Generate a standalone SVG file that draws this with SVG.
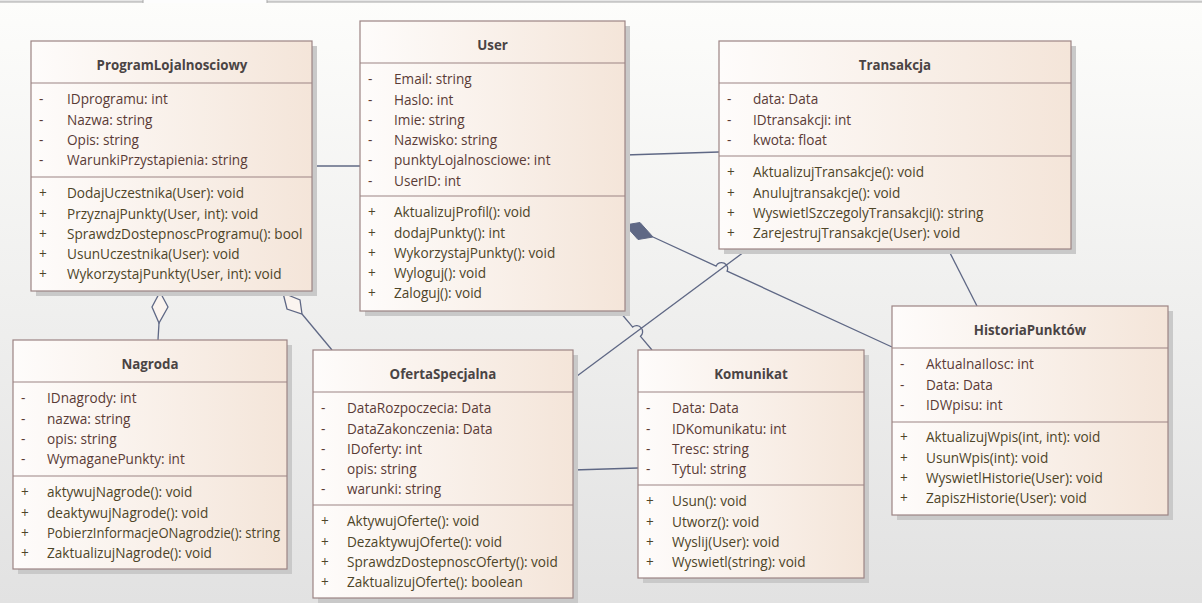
<svg xmlns="http://www.w3.org/2000/svg" width="1202" height="603" viewBox="0 0 1202 603">
<style>
.shadow{fill:#c9c9c9}
.box{fill:url(#boxg);stroke:#9c8484;stroke-width:1.2}
.sep{stroke:#9c8484;stroke-width:1.2}
.title{font-family:"Open Sans","Noto Sans",sans-serif;font-weight:bold;font-size:13.3px;fill:#4a4444;text-anchor:middle}
.attr{font-family:"Open Sans","Noto Sans",sans-serif;font-size:13.6px;fill:#5a3b36;transform:translateY(0.8px)}
.op{font-family:"Open Sans","Noto Sans",sans-serif;font-size:13.6px;fill:#4e4528;transform:translateY(0.8px)}
.conn{fill:none;stroke:#5f6885;stroke-width:1.3}
</style>
<defs>
<linearGradient id="bg" x1="0" y1="0" x2="0" y2="1">
<stop offset="0" stop-color="#fdfdfb"/>
<stop offset="1" stop-color="#e2e2e2"/>
</linearGradient>
<linearGradient id="boxg" x1="0" y1="0" x2="1" y2="0">
<stop offset="0" stop-color="#fefcfb"/>
<stop offset="1" stop-color="#f4e5d9"/>
</linearGradient>
</defs>
<rect x="0" y="0" width="1202" height="603" fill="url(#bg)"/>
<g id="tabbar">
<rect x="0" y="0" width="1202" height="2" fill="#e6e6e6"/>
<line x1="0" y1="2" x2="143" y2="2" stroke="#a8a8a8" stroke-width="1"/>
<line x1="267" y1="2" x2="1202" y2="2" stroke="#a8a8a8" stroke-width="1"/>
<rect x="143" y="0" width="124" height="3" fill="#fdfdfd"/>
<line x1="143" y1="0" x2="143" y2="3" stroke="#a8a8a8" stroke-width="1"/>
<line x1="267" y1="0" x2="267" y2="3" stroke="#a8a8a8" stroke-width="1"/>
</g>

<g id="connectors">
<path class="conn" d="M312,166 L360,166"/>
<path class="conn" d="M625,155 L719,152"/>
<path class="conn" d="M653,237 L716.1,266.1 A6,6 0 0 1 727.1,271.1 L892,347"/>
<path d="M625,225 L640,222.5 L653,237 L638,239.5 Z" fill="#5f6885" stroke="#5f6885" stroke-width="1"/>
<path class="conn" d="M748,249 L573,379"/>
<path class="conn" d="M948,249 L977,306"/>
<path class="conn" d="M620,312 L632.7,327.1 A6,6 0 0 1 640.5,336.3 L652,350"/>
<path class="conn" d="M573,470 L638,468"/>
<path class="conn" d="M159,323 L158,340"/>
<path d="M160,292 L168,307 L159,323 L152,307 Z" fill="#fbf4ef" stroke="#5f6885" stroke-width="1.3"/>
<path class="conn" d="M302,314 L332,350"/>
<path d="M283,293 L300,300 L302,314 L287,309 Z" fill="#fbf4ef" stroke="#5f6885" stroke-width="1.3"/>
</g>

<g id="ProgramLojalnosciowy">
<rect class="shadow" x="36" y="46" width="281" height="250"/>
<rect class="box" x="31" y="41" width="281" height="250"/>
<line class="sep" x1="31" y1="83" x2="312" y2="83"/>
<line class="sep" x1="31" y1="177" x2="312" y2="177"/>
<text class="title" x="172" y="69.5">ProgramLojalnosciowy</text>
<text class="attr" x="39" y="103.5">-</text><text class="attr" x="67" y="103.5">IDprogramu: int</text>
<text class="attr" x="39" y="123.8">-</text><text class="attr" x="67" y="123.8">Nazwa: string</text>
<text class="attr" x="39" y="144.1">-</text><text class="attr" x="67" y="144.1">Opis: string</text>
<text class="attr" x="39" y="164.4">-</text><text class="attr" x="67" y="164.4">WarunkiPrzystapienia: string</text>
<text class="op" x="39" y="197.5">+</text><text class="op" x="67" y="197.5">DodajUczestnika(User): void</text>
<text class="op" x="39" y="217.8">+</text><text class="op" x="67" y="217.8">PrzyznajPunkty(User, int): void</text>
<text class="op" x="39" y="238.1">+</text><text class="op" x="67" y="238.1">SprawdzDostepnoscProgramu(): bool</text>
<text class="op" x="39" y="258.4">+</text><text class="op" x="67" y="258.4">UsunUczestnika(User): void</text>
<text class="op" x="39" y="278.7">+</text><text class="op" x="67" y="278.7">WykorzystajPunkty(User, int): void</text>
</g>

<g id="User">
<rect class="shadow" x="365" y="26" width="265" height="290"/>
<rect class="box" x="360" y="21" width="265" height="290"/>
<line class="sep" x1="360" y1="63" x2="625" y2="63"/>
<line class="sep" x1="360" y1="196" x2="625" y2="196"/>
<text class="title" x="492.5" y="49.5">User</text>
<text class="attr" x="368" y="83.5">-</text><text class="attr" x="394" y="83.5">Email: string</text>
<text class="attr" x="368" y="103.8">-</text><text class="attr" x="394" y="103.8">Haslo: int</text>
<text class="attr" x="368" y="124.1">-</text><text class="attr" x="394" y="124.1">Imie: string</text>
<text class="attr" x="368" y="144.4">-</text><text class="attr" x="394" y="144.4">Nazwisko: string</text>
<text class="attr" x="368" y="164.7">-</text><text class="attr" x="394" y="164.7">punktyLojalnosciowe: int</text>
<text class="attr" x="368" y="185">-</text><text class="attr" x="394" y="185">UserID: int</text>
<text class="op" x="368" y="216.5">+</text><text class="op" x="394" y="216.5">AktualizujProfil(): void</text>
<text class="op" x="368" y="236.8">+</text><text class="op" x="394" y="236.8">dodajPunkty(): int</text>
<text class="op" x="368" y="257.1">+</text><text class="op" x="394" y="257.1">WykorzystajPunkty(): void</text>
<text class="op" x="368" y="277.4">+</text><text class="op" x="394" y="277.4">Wyloguj(): void</text>
<text class="op" x="368" y="297.7">+</text><text class="op" x="394" y="297.7">Zaloguj(): void</text>
</g>

<g id="Transakcja">
<rect class="shadow" x="724" y="46" width="352" height="208"/>
<rect class="box" x="719" y="41" width="352" height="208"/>
<line class="sep" x1="719" y1="83" x2="1071" y2="83"/>
<line class="sep" x1="719" y1="156" x2="1071" y2="156"/>
<text class="title" x="895" y="69.5">Transakcja</text>
<text class="attr" x="727" y="103.5">-</text><text class="attr" x="753" y="103.5">data: Data</text>
<text class="attr" x="727" y="123.8">-</text><text class="attr" x="753" y="123.8">IDtransakcji: int</text>
<text class="attr" x="727" y="144.1">-</text><text class="attr" x="753" y="144.1">kwota: float</text>
<text class="op" x="727" y="176.5">+</text><text class="op" x="753" y="176.5">AktualizujTransakcje(): void</text>
<text class="op" x="727" y="196.8">+</text><text class="op" x="753" y="196.8">Anulujtransakcje(): void</text>
<text class="op" x="727" y="217.1">+</text><text class="op" x="753" y="217.1">WyswietlSzczegolyTransakcji(): string</text>
<text class="op" x="727" y="237.4">+</text><text class="op" x="753" y="237.4">ZarejestrujTransakcje(User): void</text>
</g>

<g id="HistoriaPunktow">
<rect class="shadow" x="897" y="311" width="276" height="209"/>
<rect class="box" x="892" y="306" width="276" height="209"/>
<line class="sep" x1="892" y1="348" x2="1168" y2="348"/>
<line class="sep" x1="892" y1="422" x2="1168" y2="422"/>
<text class="title" x="1030" y="334.5">HistoriaPunktów</text>
<text class="attr" x="900" y="368.5">-</text><text class="attr" x="926" y="368.5">AktualnaIlosc: int</text>
<text class="attr" x="900" y="388.8">-</text><text class="attr" x="926" y="388.8">Data: Data</text>
<text class="attr" x="900" y="409.1">-</text><text class="attr" x="926" y="409.1">IDWpisu: int</text>
<text class="op" x="900" y="441.5">+</text><text class="op" x="926" y="441.5">AktualizujWpis(int, int): void</text>
<text class="op" x="900" y="461.8">+</text><text class="op" x="926" y="461.8">UsunWpis(int): void</text>
<text class="op" x="900" y="482.1">+</text><text class="op" x="926" y="482.1">WyswietlHistorie(User): void</text>
<text class="op" x="900" y="502.4">+</text><text class="op" x="926" y="502.4">ZapiszHistorie(User): void</text>
</g>

<g id="Nagroda">
<rect class="shadow" x="18" y="345" width="274" height="229"/>
<rect class="box" x="13" y="340" width="274" height="229"/>
<line class="sep" x1="13" y1="382" x2="287" y2="382"/>
<line class="sep" x1="13" y1="476" x2="287" y2="476"/>
<text class="title" x="150" y="368.5">Nagroda</text>
<text class="attr" x="21" y="402.5">-</text><text class="attr" x="47" y="402.5">IDnagrody: int</text>
<text class="attr" x="21" y="422.8">-</text><text class="attr" x="47" y="422.8">nazwa: string</text>
<text class="attr" x="21" y="443.1">-</text><text class="attr" x="47" y="443.1">opis: string</text>
<text class="attr" x="21" y="463.4">-</text><text class="attr" x="47" y="463.4">WymaganePunkty: int</text>
<text class="op" x="21" y="496.5">+</text><text class="op" x="47" y="496.5">aktywujNagrode(): void</text>
<text class="op" x="21" y="516.8">+</text><text class="op" x="47" y="516.8">deaktywujNagrode(): void</text>
<text class="op" x="21" y="537.1">+</text><text class="op" x="47" y="537.1" textLength="233" lengthAdjust="spacingAndGlyphs">PobierzInformacjeONagrodzie(): string</text>
<text class="op" x="21" y="557.4">+</text><text class="op" x="47" y="557.4">ZaktualizujNagrode(): void</text>
</g>

<g id="OfertaSpecjalna">
<rect class="shadow" x="318" y="355" width="260" height="248"/>
<rect class="box" x="313" y="350" width="260" height="248"/>
<line class="sep" x1="313" y1="392" x2="573" y2="392"/>
<line class="sep" x1="313" y1="505" x2="573" y2="505"/>
<text class="title" x="443" y="378.5">OfertaSpecjalna</text>
<text class="attr" x="321" y="412.5">-</text><text class="attr" x="347" y="412.5">DataRozpoczecia: Data</text>
<text class="attr" x="321" y="432.8">-</text><text class="attr" x="347" y="432.8">DataZakonczenia: Data</text>
<text class="attr" x="321" y="453.1">-</text><text class="attr" x="347" y="453.1">IDoferty: int</text>
<text class="attr" x="321" y="473.4">-</text><text class="attr" x="347" y="473.4">opis: string</text>
<text class="attr" x="321" y="493.7">-</text><text class="attr" x="347" y="493.7">warunki: string</text>
<text class="op" x="321" y="525.5">+</text><text class="op" x="347" y="525.5">AktywujOferte(): void</text>
<text class="op" x="321" y="545.8">+</text><text class="op" x="347" y="545.8">DezaktywujOferte(): void</text>
<text class="op" x="321" y="566.1">+</text><text class="op" x="347" y="566.1">SprawdzDostepnoscOferty(): void</text>
<text class="op" x="321" y="586.4">+</text><text class="op" x="347" y="586.4">ZaktualizujOferte(): boolean</text>
</g>

<g id="Komunikat">
<rect class="shadow" x="643" y="355" width="226" height="228"/>
<rect class="box" x="638" y="350" width="226" height="228"/>
<line class="sep" x1="638" y1="392" x2="864" y2="392"/>
<line class="sep" x1="638" y1="485" x2="864" y2="485"/>
<text class="title" x="751" y="378.5">Komunikat</text>
<text class="attr" x="646" y="412.5">-</text><text class="attr" x="672" y="412.5">Data: Data</text>
<text class="attr" x="646" y="432.8">-</text><text class="attr" x="672" y="432.8">IDKomunikatu: int</text>
<text class="attr" x="646" y="453.1">-</text><text class="attr" x="672" y="453.1">Tresc: string</text>
<text class="attr" x="646" y="473.4">-</text><text class="attr" x="672" y="473.4">Tytul: string</text>
<text class="op" x="646" y="505.5">+</text><text class="op" x="672" y="505.5">Usun(): void</text>
<text class="op" x="646" y="525.8">+</text><text class="op" x="672" y="525.8">Utworz(): void</text>
<text class="op" x="646" y="546.1">+</text><text class="op" x="672" y="546.1">Wyslij(User): void</text>
<text class="op" x="646" y="566.4">+</text><text class="op" x="672" y="566.4">Wyswietl(string): void</text>
</g>
</svg>
